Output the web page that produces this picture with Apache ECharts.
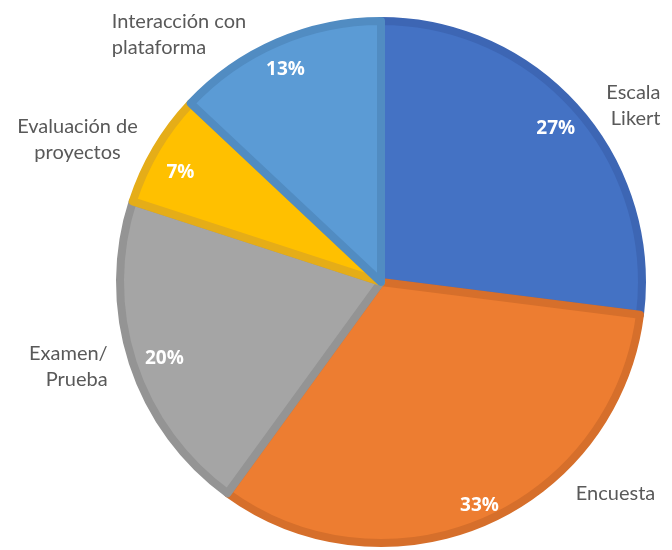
<!DOCTYPE html>
<html>
<head>
<meta charset="utf-8">
<title>Pie</title>
<script src="https://cdn.jsdelivr.net/npm/echarts@6/dist/echarts.min.js"></script>
<style>html,body{margin:0;background:#fff}</style>
</head>
<body>
<div id="main" style="width:672px;height:550px"></div>
<script type="text/javascript">
var categories = ['Escala\nLikert', 'Encuesta', 'Examen/\nPrueba', 'Evaluación de\nproyectos', 'Interacción con\nplataforma'];
var values = [27, 33, 20, 7, 13];
var fills = ['#4472C4', '#ED7D31', '#A5A5A5', '#FFC000', '#5B9BD5'];
var borders = ['#3D66B4', '#D66F2B', '#949494', '#E5AD18', '#518CC2'];

// how each label is aligned and nudged from its default spot
var nameAlign = ['r', 'l', 'r', 'c', 'l'];
var nameShift = [[11, 8], [79, -45], [-3, -2], [2, 0], [-19, 9]];
var pctShift = [[0, 1], [6, 10], [5, 5], [0, 9], [-3, 1]];

var myChart = echarts.init(document.getElementById('main'));

var slices = categories.map(function (name, i) {
    return {
        name: name,
        value: values[i],
        itemStyle: { color: fills[i], borderColor: borders[i] }
    };
});

var nameText = { color: '#595959', fontFamily: 'Lato', fontSize: 20, lineHeight: 26 };

myChart.setOption({
    backgroundColor: '#FFFFFF',
    animation: false,
    series: [
        {
            // slices with outside category labels
            type: 'pie',
            center: [381, 282],
            radius: 261,
            startAngle: 90,
            clockwise: true,
            avoidLabelOverlap: false,
            itemStyle: { borderWidth: 8 },
            label: {
                position: 'outside',
                formatter: function (p) {
                    var s = nameAlign[p.dataIndex];
                    return p.name.split('\n').map(function (t) {
                        return '{' + s + '|' + t + '}';
                    }).join('\n');
                },
                color: '#595959',
                fontFamily: 'Lato',
                fontSize: 20,
                lineHeight: 26,
                rich: {
                    l: Object.assign({ align: 'left' }, nameText),
                    r: Object.assign({ align: 'right' }, nameText),
                    c: Object.assign({ align: 'center' }, nameText)
                }
            },
            labelLine: { show: false, length: 18, length2: 0 },
            labelLayout: function (p) {
                return { dx: nameShift[p.dataIndex][0], dy: nameShift[p.dataIndex][1] };
            },
            emphasis: { disabled: true },
            data: slices
        },
        {
            // transparent ring only used to place percentage labels
            type: 'pie',
            center: [381, 282],
            radius: [198, 262],
            startAngle: 90,
            clockwise: true,
            silent: true,
            itemStyle: { color: 'rgba(0,0,0,0)' },
            label: {
                position: 'inside',
                formatter: '{d}%',
                color: '#FFFFFF',
                fontFamily: 'Open Sans',
                fontWeight: 'bold',
                fontSize: 19
            },
            labelLine: { show: false },
            labelLayout: function (p) {
                return { dx: pctShift[p.dataIndex][0], dy: pctShift[p.dataIndex][1] };
            },
            data: categories.map(function (name, i) {
                return { name: name, value: values[i] };
            })
        }
    ]
});
</script>
</body>
</html>
